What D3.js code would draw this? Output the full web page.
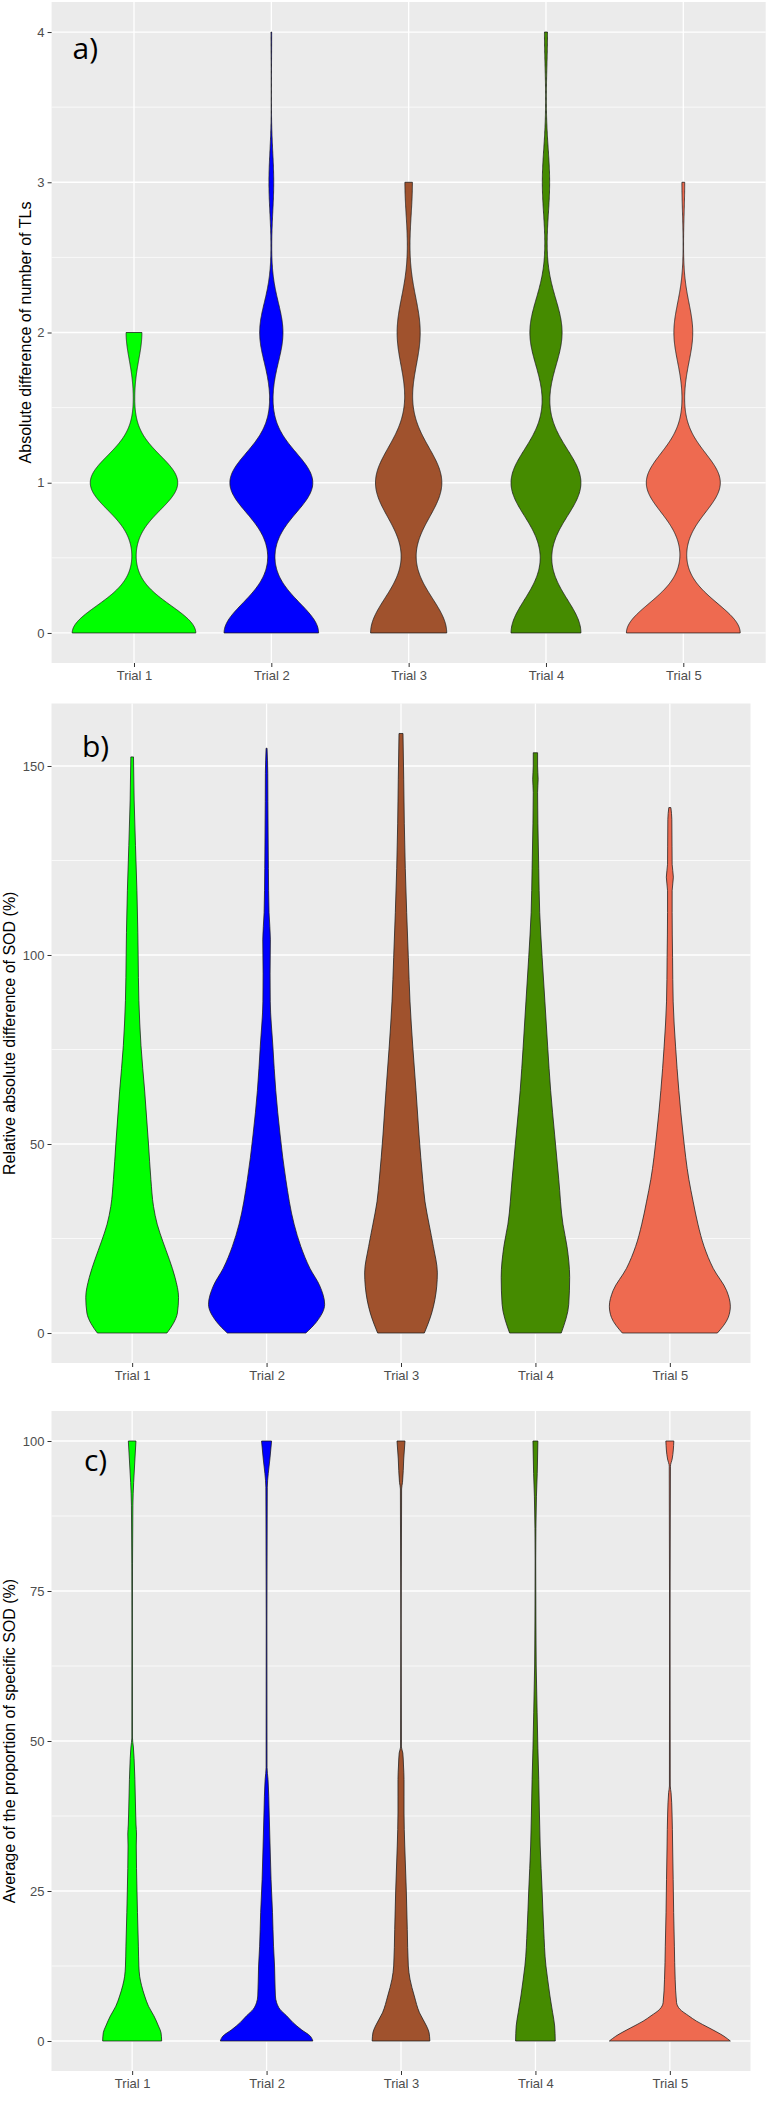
<!DOCTYPE html>
<html>
<head>
<meta charset="utf-8">
<script src="https://cdn.jsdelivr.net/npm/d3@7"></script>
<style>
  html, body { margin: 0; padding: 0; background: #ffffff; }
  svg { display: block; }
</style>
</head>
<body>
<svg id="chart" width="768" height="2112"></svg>
<script>
// ---------------- DATA ----------------
const trials = ["Trial 1", "Trial 2", "Trial 3", "Trial 4", "Trial 5"];
const trialColors = ["#00FF00", "#0000FF", "#A0522D", "#458B00", "#EE6A50"];

// Panel a: integer data (absolute difference of number of TLs), counts per value
const tlValues = [0, 1, 2, 3, 4];
const tlCountsT1 = [164, 116, 21, 0, 0];
const tlCountsT2 = [138, 121, 34, 7, 1];
const tlCountsT3 = [132, 115, 40, 13, 0];
const tlCountsT4 = [115, 115, 53, 12, 5];
const tlCountsT5 = [163, 106, 27, 4, 0];
const tlBandwidth = [0.18, 0.198, 0.236, 0.224, 0.195];
const tlTicks = [0, 1, 2, 3, 4];

// Panel b: density profiles [value, relative density]
const sodDiffT1 = [[0,0.575],[2.5,0.68],[5.3,0.748],[9.4,0.767],[14.7,0.709],[19.4,0.616],[24.1,0.51],[28.8,0.414],[33.5,0.353],[40.6,0.31],[50,0.27],[64,0.207],[76,0.146],[88,0.111],[100,0.099],[106,0.094],[117,0.079],[129,0.055],[141,0.033],[152.4,0.022]];
const sodDiffT2 = [[0,0.649],[3,0.828],[7.6,0.96],[12.4,0.882],[17.1,0.717],[22.9,0.566],[28.8,0.455],[40.6,0.318],[52.4,0.224],[64.1,0.152],[75.9,0.104],[87.6,0.061],[95,0.058],[104,0.063],[111.2,0.041],[122.9,0.03],[140.6,0.022],[148,0.02],[154.7,0.008]];
const sodDiffT3 = [[0,0.386],[5.3,0.508],[12.4,0.591],[15.9,0.601],[22.9,0.535],[28.8,0.464],[34.7,0.397],[40.6,0.359],[52.4,0.298],[64.1,0.248],[75.9,0.194],[87.6,0.149],[99.4,0.121],[111.2,0.094],[122.9,0.071],[134.7,0.055],[146.5,0.045],[158.6,0.033]];
const sodDiffT4 = [[0,0.427],[7.6,0.551],[14.7,0.566],[22.9,0.522],[28.8,0.455],[40.6,0.386],[52.4,0.318],[64.1,0.252],[75.9,0.202],[87.6,0.157],[99.4,0.111],[111.2,0.071],[122.9,0.055],[134.7,0.041],[143,0.036],[146.5,0.045],[150,0.036],[153.5,0.036]];
const sodDiffT5 = [[0,0.786],[4.1,0.965],[7.1,1],[11.2,0.939],[17.1,0.717],[22.9,0.566],[28.8,0.464],[34.7,0.386],[40.6,0.315],[52.4,0.22],[64.1,0.149],[75.9,0.094],[87.6,0.055],[99.4,0.045],[111.2,0.038],[117,0.038],[120.6,0.058],[124,0.038],[128.8,0.036],[135.9,0.033],[139,0.017]];
const sodDiffTicks = [0, 50, 100, 150];

// Panel c: density profiles [value, relative density]
const sodPropT1 = [[0,0.488],[1.4,0.477],[2.5,0.435],[4.2,0.359],[5.8,0.27],[7.5,0.207],[9.2,0.157],[10.8,0.124],[12.5,0.111],[15.8,0.103],[21.4,0.088],[25,0.08],[32.5,0.068],[34.5,0.072],[36,0.064],[38,0.058],[43.6,0.045],[47.1,0.032],[49,0.02],[50.5,0.005],[70,0.004],[89.3,0.012],[93.1,0.025],[97,0.046],[100,0.063]];
const sodPropT2 = [[0,0.765],[0.8,0.724],[1.9,0.574],[3.1,0.434],[4.2,0.331],[5.3,0.22],[6.4,0.166],[7.5,0.146],[12.5,0.132],[15.8,0.115],[21.4,0.098],[26.9,0.074],[32.5,0.058],[38,0.043],[43.6,0.024],[45.6,0.008],[70,0.006],[92.3,0.012],[94.6,0.028],[97,0.055],[100,0.083]];
const sodPropT3 = [[0,0.477],[1.4,0.464],[2.5,0.422],[4.7,0.306],[7.5,0.22],[10.3,0.149],[12.5,0.121],[18.6,0.104],[25,0.088],[32.5,0.062],[38,0.05],[43.6,0.05],[46,0.041],[48,0.03],[49,0.007],[70,0.004],[92,0.01],[93.1,0.025],[97,0.045],[100,0.066]];
const sodPropT4 = [[0,0.328],[2.5,0.318],[4.7,0.285],[7.5,0.24],[10.3,0.202],[12.5,0.174],[18.6,0.137],[25,0.111],[32.5,0.079],[38,0.066],[43.6,0.055],[48.7,0.041],[54.8,0.028],[62.5,0.013],[70,0.008],[80,0.005],[90.8,0.017],[94.6,0.03],[100,0.041]];
const sodPropT5 = [[0,1],[0.8,0.894],[2.2,0.646],[3.3,0.442],[4.2,0.311],[5.3,0.166],[6.4,0.111],[10.3,0.088],[15.8,0.075],[21.4,0.063],[26.9,0.055],[32.5,0.046],[38,0.036],[41.4,0.02],[42.5,0.007],[70,0.004],[95.8,0.01],[97,0.038],[100,0.066]];
const sodPropTicks = [0, 25, 50, 75, 100];

// ---------------- HELPERS ----------------
function gaussKDE(values, counts, bw, grid) {
  const n = d3.sum(counts);
  const k = 1 / (bw * Math.sqrt(2 * Math.PI));
  return grid.map(y => {
    let s = 0;
    values.forEach((v, i) => {
      if (counts[i] > 0) { const z = (y - v) / bw; s += counts[i] * Math.exp(-0.5 * z * z); }
    });
    return [y, k * s / n];
  });
}

// Build panel a profiles from the counts (violin stat, trimmed to data range)
const tlCountsAll = [tlCountsT1, tlCountsT2, tlCountsT3, tlCountsT4, tlCountsT5];
const tlProfiles = tlCountsAll.map((counts, i) => {
  const present = tlValues.filter((v, j) => counts[j] > 0);
  const lo = d3.min(present), hi = d3.max(present);
  const grid = d3.range(512).map(j => lo + (hi - lo) * j / 511);
  return gaussKDE(tlValues, counts, tlBandwidth[i], grid);
});

// ---------------- LAYOUT ----------------
const panels = [
  { profiles: tlProfiles, ticks: tlTicks, minor: [0.5, 1.5, 2.5, 3.5], curve: d3.curveLinear,
    title: "Absolute difference of number of TLs", tag: "a)",
    left: 51.6, right: 765.7, top: 2, bottom: 663, titleX: 31, tagX: 72.5, tagY: 59 },
  { profiles: [sodDiffT1, sodDiffT2, sodDiffT3, sodDiffT4, sodDiffT5], ticks: sodDiffTicks, minor: [25, 75, 125], curve: d3.curveMonotoneY,
    title: "Relative absolute difference of SOD (%)", tag: "b)",
    left: 51.5, right: 750.5, top: 703.5, bottom: 1363, titleX: 15, tagX: 82, tagY: 757 },
  { profiles: [sodPropT1, sodPropT2, sodPropT3, sodPropT4, sodPropT5], ticks: sodPropTicks, minor: [12.5, 37.5, 62.5, 87.5], curve: d3.curveMonotoneY,
    title: "Average of the proportion of specific SOD (%)", tag: "c)",
    left: 51.5, right: 750.5, top: 1411, bottom: 2071, titleX: 15, tagX: 84, tagY: 1471 }
];

const svg = d3.select("#chart");
const axisFont = "'Liberation Sans', Arial, sans-serif";

panels.forEach(p => {
  const g = svg.append("g");
  const allVals = p.profiles.flat().map(d => d[0]);
  const vMin = d3.min(allVals), vMax = d3.max(allVals);
  const pad = 0.05 * (vMax - vMin);
  const y = d3.scaleLinear().domain([vMin - pad, vMax + pad]).range([p.bottom, p.top]);
  const x = d3.scalePoint().domain(trials).range([p.left, p.right]).padding(0.6);
  const maxDens = d3.max(p.profiles.flat(), d => d[1]);
  const w = d3.scaleLinear().domain([0, maxDens]).range([0, 0.45 * x.step()]);

  g.append("rect").attr("x", p.left).attr("y", p.top)
    .attr("width", p.right - p.left).attr("height", p.bottom - p.top).attr("fill", "#EBEBEB");

  g.selectAll(".minor").data(p.minor).enter().append("line")
    .attr("x1", p.left).attr("x2", p.right).attr("y1", d => y(d)).attr("y2", d => y(d))
    .attr("stroke", "#ffffff").attr("stroke-width", 0.7);
  g.selectAll(".majorY").data(p.ticks).enter().append("line")
    .attr("x1", p.left).attr("x2", p.right).attr("y1", d => y(d)).attr("y2", d => y(d))
    .attr("stroke", "#ffffff").attr("stroke-width", 1.3);
  g.selectAll(".majorX").data(trials).enter().append("line")
    .attr("x1", d => x(d)).attr("x2", d => x(d)).attr("y1", p.top).attr("y2", p.bottom)
    .attr("stroke", "#ffffff").attr("stroke-width", 1.3);

  p.profiles.forEach((prof, i) => {
    const cx = x(trials[i]);
    const area = d3.area().curve(p.curve)
      .y(d => y(d[0]))
      .x0(d => cx - w(d[1]))
      .x1(d => cx + w(d[1]));
    g.append("path").attr("d", area(prof))
      .attr("fill", trialColors[i]).attr("stroke", "#1a1a1a")
      .attr("stroke-width", 0.75).attr("stroke-linejoin", "round");
  });

  const yAxis = d3.axisLeft(y).tickValues(p.ticks).tickSize(4).tickPadding(3).tickFormat(d3.format("d"));
  const ya = g.append("g").attr("transform", `translate(${p.left},0)`).call(yAxis);
  ya.select(".domain").remove();
  ya.selectAll(".tick line").attr("stroke", "#333333").attr("stroke-width", 1);
  ya.selectAll(".tick text").attr("fill", "#4D4D4D").attr("font-size", 13).attr("font-family", axisFont);

  const xAxis = d3.axisBottom(x).tickSize(4).tickPadding(4);
  const xa = g.append("g").attr("transform", `translate(0,${p.bottom})`).call(xAxis);
  xa.select(".domain").remove();
  xa.selectAll(".tick line").attr("stroke", "#333333").attr("stroke-width", 1);
  xa.selectAll(".tick text").attr("fill", "#4D4D4D").attr("font-size", 13).attr("font-family", axisFont);

  g.append("text")
    .attr("transform", `translate(${p.titleX},${(p.top + p.bottom) / 2}) rotate(-90)`)
    .attr("text-anchor", "middle").attr("font-size", 16).attr("font-family", axisFont)
    .attr("fill", "#000000").text(p.title);

  g.append("text").attr("x", p.tagX).attr("y", p.tagY)
    .attr("font-size", 30).attr("font-family", "'Open Sans', 'Noto Sans', sans-serif")
    .attr("fill", "#000000").text(p.tag);
});
</script>
</body>
</html>
